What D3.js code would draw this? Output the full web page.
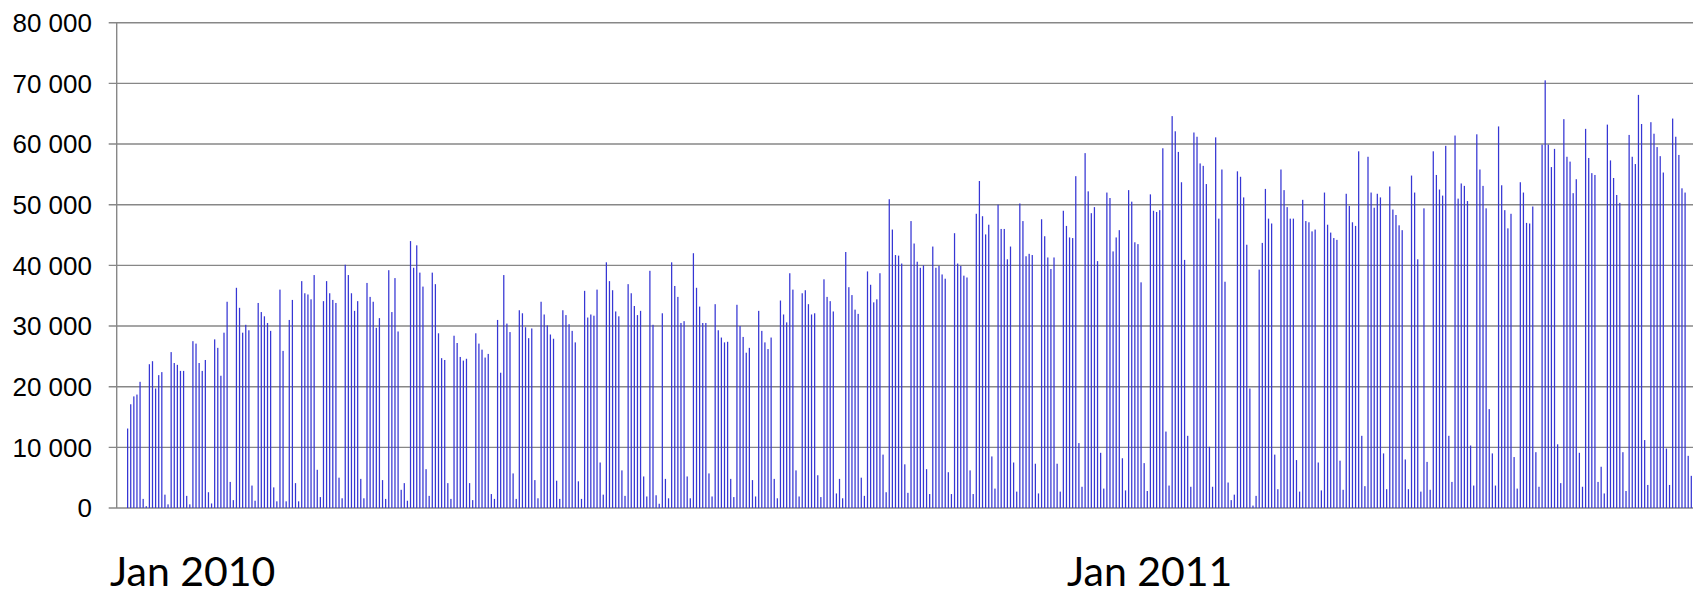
<!DOCTYPE html>
<html>
<head>
<meta charset="utf-8">
<script src="https://cdn.jsdelivr.net/npm/d3@7"></script>
<style>
  body { margin: 0; background: #fff; }
  svg { display: block; }
</style>
</head>
<body>
<div id="chart"></div>
<script>
// daily values, first day = 1 Jan 2010
const startDate = new Date(2010, 0, 1);

// Fri 1 - Sun 3 Jan 2010
const lead2010 = [0, 0, 0];

// one row per week, Monday .. Sunday
const weeks2010 = [
  [13100, 17100, 18400, 18700, 20800, 1500, 300],   // Jan 4
  [23700, 24200, 19700, 21900, 22400, 2200, 600],
  [25700, 23900, 23600, 22600, 22600, 2000, 600],
  [27500, 27100, 23900, 22600, 24400, 2600, 750],
  [27800, 26400, 21800, 28900, 34000, 4300, 1300],  // Feb 1
  [36300, 33000, 28900, 30200, 29300, 3700, 1200],
  [33800, 32300, 31600, 30500, 29200, 3400, 1100],
  [36000, 25900, 1100, 31000, 34300, 4100, 1100],
  [37400, 35400, 35200, 34400, 38400, 6300, 1800],  // Mar 1
  [34100, 37400, 35400, 34300, 33800, 5000, 1600],
  [40100, 38400, 35400, 32500, 34100, 4800, 1600],
  [37100, 34800, 34000, 29700, 31300, 4600, 1500],
  [39200, 32300, 37900, 29100, 3000, 4100, 1200],
  [44000, 39600, 43300, 38800, 36500, 6400, 2000],  // Apr 5
  [38800, 36900, 28800, 24700, 24400, 4100, 1500],
  [28400, 27200, 24900, 24300, 24600, 4100, 1300],
  [28800, 27100, 26100, 24800, 25400, 2300, 1500],
  [31000, 22300, 38400, 30400, 29000, 5700, 1500],  // May 3
  [32600, 32100, 29800, 28000, 29600, 4600, 1600],
  [34000, 31900, 30100, 28600, 27900, 4500, 1500],
  [32600, 31800, 30300, 29200, 27300, 4400, 1500],
  [35800, 31400, 31900, 31700, 36000, 7500, 2200],  // May 31
  [40500, 37400, 35900, 32400, 31600, 6200, 2000],
  [36900, 35400, 33300, 31800, 32500, 5200, 1900],
  [39100, 30200, 2100, 700, 32100, 4800, 1600],
  [40500, 36600, 34800, 30500, 30800, 5200, 1600],  // Jun 28
  [42000, 36300, 33200, 30500, 30500, 5700, 1900],
  [33600, 29300, 28100, 27300, 27400, 4800, 1800],
  [33500, 30000, 28200, 25600, 26400, 4600, 1900],
  [32500, 29200, 27300, 26200, 28100, 4800, 1600],  // Jul 26
  [34200, 31900, 30600, 38700, 36000, 6200, 1900],
  [35400, 35900, 33600, 31900, 32100, 5400, 1800],
  [37700, 34800, 34100, 32400, 2400, 4800, 1600],
  [42200, 36400, 35100, 32700, 32000, 5000, 2000],
  [39000, 36800, 33900, 34400, 38700, 8800, 2600],  // Aug 30
  [50900, 45900, 41700, 41600, 40300, 7200, 2500],
  [47300, 43600, 40600, 39600, 40000, 6400, 2300],
  [43100, 39600, 39900, 38500, 37800, 5900, 2300],
  [45300, 40300, 39900, 38300, 38000, 6200, 2300],  // Sep 27
  [48500, 53900, 48100, 45100, 46700, 8500, 3200],
  [50000, 46000, 46000, 41000, 43100, 7500, 2700],
  [50200, 47300, 41500, 41900, 41700, 7300, 2400],
  [47600, 44800, 41300, 39400, 41300, 7300, 2700],
  [49000, 46500, 44600, 44500, 54700, 10700, 3500], // Nov 1
  [58500, 52200, 48600, 49600, 40700, 9100, 3200],
  [52000, 51100, 42300, 44600, 45800, 8200, 2900],
  [52400, 50500, 43800, 43500, 37200, 7400, 2800],
  [51700, 49000, 48800, 49100, 59300, 12600, 3700], // Nov 29
  [64600, 62100, 58700, 53700, 40900, 11900, 3500],
  [61900, 61200, 56800, 56400, 53400, 10100, 3500],
  [61100, 47700, 55800, 37300, 4200, 1300, 2200],
  [55500, 54600, 51200, 43400, 19700, 400, 2000]    // Dec 27
];

const weeks2011 = [
  [39300, 43700, 52600, 47700, 46900, 8800, 3100],  // Jan 3
  [55800, 52400, 49600, 47700, 47700, 7900, 2700],
  [50800, 47300, 47100, 45600, 45900, 7500, 2900],
  [52000, 46700, 45400, 44500, 44200, 7800, 3000],
  [51800, 49800, 47100, 46500, 58800, 11900, 3600], // Jan 31
  [57900, 52000, 49500, 51800, 51200, 9000, 3100],
  [53000, 49200, 48300, 46600, 45800, 8000, 3100],
  [54800, 52000, 41000, 2700, 49400, 7600, 3000],
  [58800, 54900, 52500, 51500, 59700, 11900, 4300], // Feb 28
  [61400, 51000, 53500, 53100, 50600, 10300, 3700],
  [61600, 55800, 53100, 49400, 16300, 9000, 3700],
  [62900, 53200, 49100, 46100, 48500, 8400, 3200],
  [53700, 52000, 47000, 46900, 49700, 9200, 3500],
  [59900, 70500, 59900, 56200, 59200, 10500, 4100], // Apr 4
  [64100, 57900, 57100, 51900, 54200, 9100, 3500],
  [62500, 57700, 55200, 54900, 4300, 6800, 2400],
  [63200, 57300, 54400, 51600, 50300, 9200, 2800],
  [61500, 57900, 56700, 68100, 63300, 11200, 3800], // May 2
  [63600, 61700, 59500, 58000, 55300, 9800, 3800],
  [64200, 61200, 58200, 52700, 52000, 8600, 5300]
];

// axis ticks and the two year captions
const yTicks = [0, 10000, 20000, 30000, 40000, 50000, 60000, 70000, 80000];
const yearLabels = ["Jan 2010", "Jan 2011"];

//flatten the weeks into one day-by-day list
const values = lead2010.concat(weeks2010.flat(), weeks2011.flat());
const data = values.map((v, i) => ({ date: d3.timeDay.offset(startDate, i), value: v }));

const width = 1696, height = 596;
const plot = { left: 116.7, right: 1693, top: 22.7, bottom: 508 };

const svg = d3.select("#chart")
  .append("svg")
  .attr("width", width)
  .attr("height", height);

//x scale: one slot per day
const xScale = d3.scaleTime()
  .domain([startDate, data[data.length - 1].date])
  .range([118.3, 1691.3]);

const yScale = d3.scaleLinear()
  .domain([0, 80000])
  .range([plot.bottom, plot.top]);

//horizontal gridlines (also the tick marks left of the axis)
svg.append("g")
  .selectAll("line")
  .data(yTicks)
  .enter()
  .append("line")
  .attr("x1", plot.left - 8)
  .attr("x2", plot.right)
  .attr("y1", d => yScale(d))
  .attr("y2", d => yScale(d))
  .attr("stroke", "#878787")
  .attr("stroke-width", 1.4);

//y axis labels with a space as thousands separator
const fmt = d3.format(",");
svg.append("g")
  .selectAll("text")
  .data(yTicks)
  .enter()
  .append("text")
  .attr("x", 92)
  .attr("y", d => yScale(d))
  .attr("dy", "0.36em")
  .attr("text-anchor", "end")
  .attr("font-family", "'Liberation Sans', Arial, sans-serif")
  .attr("font-size", 26)
  .attr("fill", "#000")
  .text(d => fmt(d).replace(/,/g, " "));

//vertical axis line
svg.append("line")
  .attr("x1", plot.left)
  .attr("x2", plot.left)
  .attr("y1", plot.top)
  .attr("y2", plot.bottom)
  .attr("stroke", "#878787")
  .attr("stroke-width", 1.4);

//thin daily bars
const barW = 1.25;
svg.append("g")
  .selectAll("rect")
  .data(data.filter(d => d.value > 0))
  .enter()
  .append("rect")
  .attr("x", d => xScale(d.date) - barW / 2)
  .attr("y", d => yScale(d.value))
  .attr("width", barW)
  .attr("height", d => yScale(0) - yScale(d.value))
  .attr("fill", "#3636d4");

//year captions under the plot
const captionX = [110, 1067];
svg.append("g")
  .selectAll("text")
  .data(yearLabels)
  .enter()
  .append("text")
  .attr("x", (d, i) => captionX[i])
  .attr("y", 586)
  .attr("font-family", "Lato, 'Open Sans', sans-serif")
  .attr("font-size", 41)
  .attr("fill", "#000")
  .text(d => d);
</script>
</body>
</html>
